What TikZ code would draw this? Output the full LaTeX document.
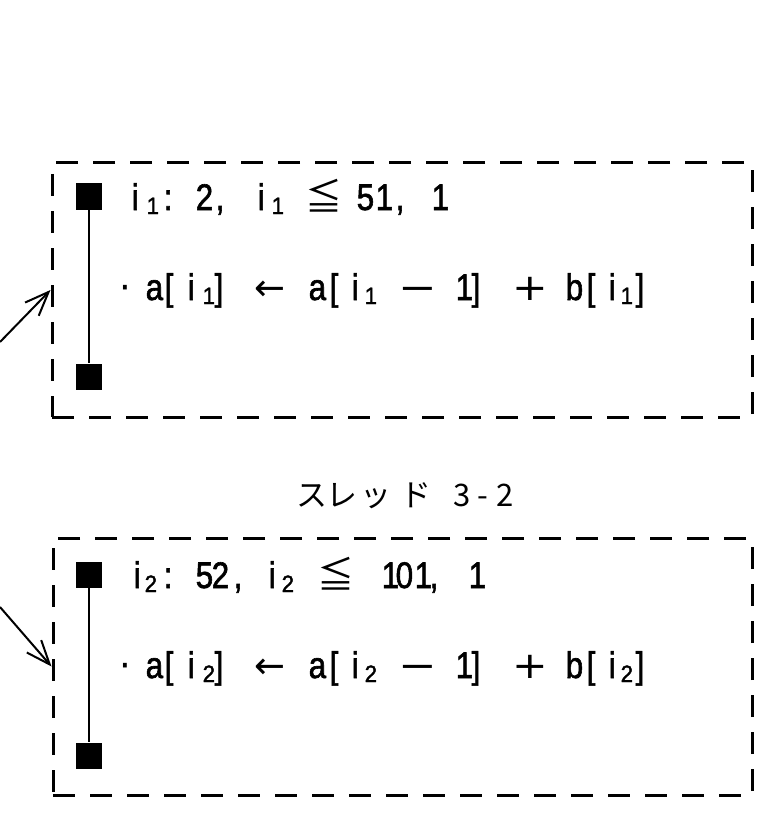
\documentclass[tikz,border=0pt]{standalone}
\usepackage{fontspec}
\setmainfont{Liberation Sans}[FakeBold=1.7]
\newfontfamily\cjk{Noto Sans CJK JP}
\newfontfamily\dvs{DejaVu Sans}
\usetikzlibrary{arrows.meta}
% token placed with its left edge at absolute x (pt)
\newcommand{\tk}[2]{\rlap{\hskip\dimexpr#1pt-2pt\relax\scalebox{0.85}[1]{#2}}}
\newcommand{\sbx}[2]{\rlap{\hskip\dimexpr#1pt-1pt\relax\raisebox{-4pt}{\scalebox{0.6}[0.64]{#2}}}}
\newcommand{\opx}[3]{\rlap{\hskip\dimexpr#1pt-2pt\relax\scalebox{#2}[1]{\dvs #3}}}
\newcommand{\leqq}[1]{\rlap{\hskip\dimexpr#1pt-3pt\relax{\cjk ≦}}}
\newcommand{\kk}[2]{\rlap{\hskip\dimexpr#1pt-1pt\relax{\cjk #2}}}
\tikzset{
  tbox/.style={draw, line width=3pt, dash pattern=on 22pt off 15pt, inner sep=0pt},
  sq/.style={fill=black, minimum width=26pt, minimum height=26pt, inner sep=0pt},
  line/.style={anchor=base west, inner sep=0pt, font=\fontsize{37}{40}\selectfont},
  lbl/.style={anchor=base west, inner sep=0pt, font=\fontsize{31}{34}\selectfont},
  arr/.style={line width=2pt, -{Straight Barb[length=24pt,width=19pt,line width=2pt]}},
  bar/.style={line width=2pt}
}
\begin{document}
\begin{tikzpicture}[x=1pt,y=-1pt]
\useasboundingbox (0,0) rectangle (771,821);
% ---------- box 1 ----------
\node[tbox, minimum width=700pt, minimum height=254pt] (box1) at (402,290) {};
\node[sq] (s1a) at (89,196.5) {};
\node[sq] (s1b) at (89,376.5) {};
\draw[bar] (s1a) -- (s1b);
\node[line] (t1a) at (0,210) {\tk{133}{i}\sbx{147}{1}\tk{165}{:}\tk{197}{2}\tk{217}{,}%
  \tk{259}{i}\sbx{272}{1}\leqq{308}\tk{358}{5}\tk{377}{1}\tk{397}{,}\tk{433}{1}};
\node[line] (t1b) at (0,300) {\opx{121}{1}{·}\tk{147}{a}\tk{166}{[}\tk{189}{i}\sbx{203}{1}\tk{216}{]}%
  \opx{256}{1}{←}\tk{310}{a}\tk{331}{[}\tk{353}{i}\sbx{365}{1}\opx{400}{1.25}{−}%
  \tk{457}{1}\tk{473}{]}\opx{514}{1.15}{+}\tk{567}{b}\tk{588}{[}\tk{610}{i}\sbx{621}{1}\tk{637}{]}};
\coordinate (a1s) at (0,342);
\draw[arr] (a1s) -- (box1.west);
% ---------- label ----------
\node[lbl] (lab) at (0,506) {\kk{297}{ス}\kk{327}{レ}\kk{361}{ッ}\kk{401}{ド}\kk{454}{3}\kk{478}{-}\kk{497}{2}};
% ---------- box 2 ----------
\node[tbox, minimum width=699pt, minimum height=257pt] (box2) at (402.5,666.5) {};
\node[sq] (s2a) at (89,575) {};
\node[sq] (s2b) at (89,755.5) {};
\draw[bar] (s2a) -- (s2b);
\node[line] (t2a) at (0,588) {\tk{135}{i}\sbx{145}{2}\tk{165}{:}\tk{197}{5}\tk{213}{2}\tk{235}{,}%
  \tk{270}{i}\sbx{282}{2}\leqq{320}\tk{383}{1}\tk{397}{0}\tk{416}{1}\tk{431}{,}\tk{470}{1}};
\node[line] (t2b) at (0,678) {\opx{121}{1}{·}\tk{147}{a}\tk{166}{[}\tk{189}{i}\sbx{203}{2}\tk{216}{]}%
  \opx{256}{1}{←}\tk{310}{a}\tk{331}{[}\tk{353}{i}\sbx{365}{2}\opx{400}{1.25}{−}%
  \tk{457}{1}\tk{473}{]}\opx{514}{1.15}{+}\tk{567}{b}\tk{588}{[}\tk{610}{i}\sbx{621}{2}\tk{637}{]}};
\coordinate (a2s) at (0,607);
\draw[arr] (a2s) -- (box2.west);
\end{tikzpicture}
\end{document}
